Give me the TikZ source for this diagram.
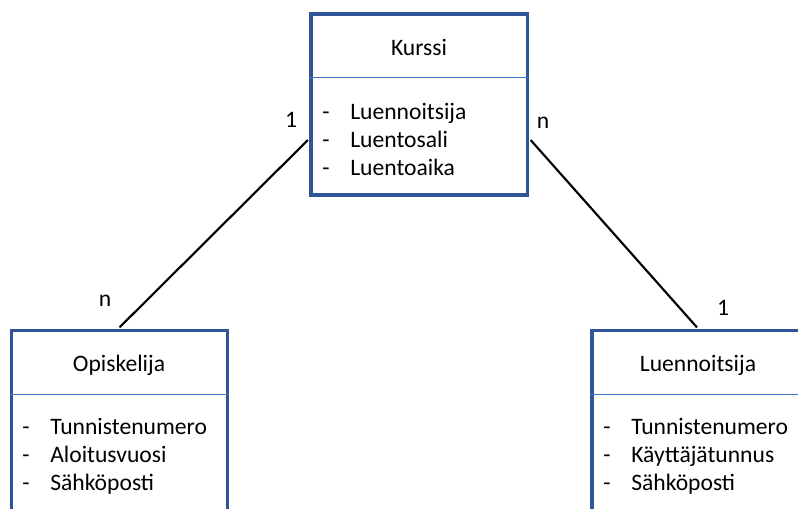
\documentclass[tikz,border=0pt]{standalone}
\usepackage{fontspec}
\setmainfont{Carlito}
\usetikzlibrary{calc}
\definecolor{boxblue}{HTML}{2F5597}
\definecolor{sepblue}{HTML}{4472C4}
\tikzset{
  entity/.style={draw=boxblue, line width=2.4pt, fill=white, inner sep=0pt,
                 minimum width=162pt},
  sepline/.style={draw=sepblue, line width=0.8pt},
  title/.style={inner sep=0pt, font=\fontsize{17.7}{21}\selectfont},
  attrs/.style={inner sep=0pt, anchor=west, align=left,
                font=\fontsize{17.7}{21}\selectfont},
  link/.style={draw=black, line width=1.6pt},
  card/.style={inner sep=0pt, font=\fontsize{17.7}{21}\selectfont}
}
\newcommand{\attr}[1]{\makebox[21pt][l]{-}#1}
\begin{document}
\begin{tikzpicture}[x=0.75pt, y=-0.75pt]
\useasboundingbox (0,0) rectangle (798,508);
\clip (0,0) rectangle (798,508);

% entity boxes
\node[entity, minimum width=162.4pt, minimum height=135.75pt] (k) at (419.25,104.5) {};
\node[entity, minimum height=149.6pt] (o) at (119.5,430.25) {};
\node[entity, minimum height=149.6pt] (l) at (700,430.25) {};

% header separators
\draw[sepline] ($(k.north west)+(0,64.7)$) -- ($(k.north east)+(0,64.7)$);
\draw[sepline] ($(o.north west)+(0,65.5)$) -- ($(o.north east)+(0,65.5)$);
\draw[sepline] ($(l.north west)+(0,65.5)$) -- ($(l.north east)+(0,65.5)$);

% titles
\node[title] (kt) at (419,47) {Kurssi};
\node[title] (ot) at (119,365) {Opiskelija};
\node[title] (lt) at (698,365) {Luennoitsija};

% attribute lists
\node[attrs] (ka) at (322,139) {\attr{Luennoitsija}\\\attr{Luentosali}\\\attr{Luentoaika}};
\node[attrs] (oa) at (22,456.5) {\attr{Tunnistenumero}\\\attr{Aloitusvuosi}\\\attr{Sähköposti}};
\node[attrs] (la) at (603,456.5) {\attr{Tunnistenumero}\\\attr{Käyttäjätunnus}\\\attr{Sähköposti}};

% relationships
\draw[link] ($(k.west)+(-1.5,35.5)$) -- ($(o.north)+(0,-1.5)$);
\draw[link] ($(k.east)+(1.5,35.5)$) -- ($(l.north)+(-3,-1.5)$);

% cardinalities
\node[card] (c1) at (291,120) {1};
\node[card] (c2) at (543,123) {n};
\node[card] (c3) at (105,301) {n};
\node[card] (c4) at (723,308) {1};
\end{tikzpicture}
\end{document}
